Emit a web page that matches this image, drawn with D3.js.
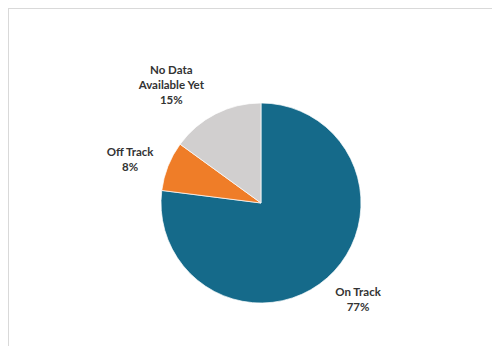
<!DOCTYPE html>
<html>
    <head>
        <script src="https://d3js.org/d3.v7.min.js"></script>
        <style>
            body { margin: 0; background: #fff; }
        </style>
    </head>
    <body>
        <script type='text/javascript'>
            var categories = ['On Track', 'Off Track', 'No Data Available Yet']
            var values = [77, 8, 15]
            var labelLines = [['On Track'], ['Off Track'], ['No Data', 'Available Yet']]
            var colors = ['#156a8a', '#ef7d28', '#d1cfcf']

            var w = 492
            var h = 346
            var svg = d3.select('body').append('svg').attr('width', w).attr('height', h)

            // chart frame
            svg.append('rect')
                .attr('x', 8.5).attr('y', 8.5)
                .attr('width', w).attr('height', h)
                .attr('fill', 'none')
                .attr('stroke', '#d9d9d9')

            var cx = 261, cy = 203, r = 100

            var pie = d3.pie().sort(null).value(function(d) { return d })
            var arcs = pie(values)
            var arc = d3.arc().innerRadius(0).outerRadius(r)

            var g = svg.append('g').attr('transform', 'translate(' + cx + ',' + cy + ')')

            g.selectAll('path')
                .data(arcs)
                .enter()
                .append('path')
                .attr('d', arc)
                .attr('fill', function(d, i) { return colors[i] })
                .attr('stroke', '#fff')
                .attr('stroke-width', 0.7)

            // label placement: distance from centre and small angle nudge (degrees)
            var labelDist = [137, 138, 148]
            var labelNudge = [-3.7, -3.2, -10.3]

            var labels = g.selectAll('text.lbl')
                .data(arcs)
                .enter()
                .append('text')
                .attr('class', 'lbl')
                .attr('font-family', 'Lato, sans-serif')
                .attr('font-weight', 'bold')
                .attr('font-size', '11.5px')
                .attr('fill', '#333')
                .attr('text-anchor', 'middle')
                .attr('transform', function(d, i) {
                    var a = (d.startAngle + d.endAngle) / 2 + labelNudge[i] * Math.PI / 180
                    var x = Math.sin(a) * labelDist[i]
                    var y = -Math.cos(a) * labelDist[i]
                    return 'translate(' + x + ',' + y + ')'
                })

            labels.each(function(d, i) {
                var lines = labelLines[i].concat([values[i] + '%'])
                var t = d3.select(this)
                var start = -(lines.length - 1) * 15 / 2
                lines.forEach(function(s, j) {
                    t.append('tspan')
                        .attr('x', 0)
                        .attr('y', start + j * 15)
                        .attr('dy', '0.35em')
                        .text(s)
                })
            })
        </script>
    </body>
</html>
